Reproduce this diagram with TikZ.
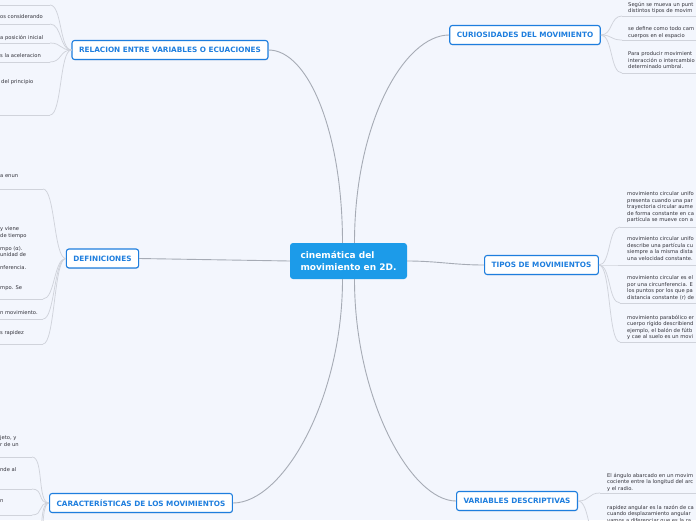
\documentclass[tikz,border=0pt]{standalone}
\usepackage{fontspec}
\setmainfont{DejaVu Sans}
\usetikzlibrary{positioning,shadows}
\definecolor{bgcol}{RGB}{243,246,253}
\definecolor{hubblue}{RGB}{28,155,233}
\definecolor{topicblue}{RGB}{30,126,222}
\definecolor{maingray}{RGB}{166,171,181}
\definecolor{leafgray}{RGB}{208,211,219}
\definecolor{leaftext}{RGB}{50,50,58}
\tikzset{
	mainline/.style={draw=maingray, line width=0.9pt},
	leafline/.style={draw=leafgray, line width=0.75pt},
	bendto/.style 2 args={to path={.. controls #1 and #2 .. (\tikztotarget)}},
	leafL/.style={to path={.. controls +(-12,0) and +(12,0) .. (\tikztotarget)}}, % rounded branch to the left
	leafR/.style={to path={.. controls +(12,0) and +(-12,0) .. (\tikztotarget)}}
}
\begin{document}
\begin{tikzpicture}[x=1pt, y=-1pt,
		hub/.style={rectangle, rounded corners=3pt, fill=hubblue, text=white, align=left,
			font=\fontsize{9}{12}\selectfont\bfseries, minimum width=117pt, minimum height=36pt, inner sep=0pt},
		topic/.style={rectangle, rounded corners=2.5pt, draw=topicblue, line width=1.1pt, fill=white,
			text=topicblue, font=\fontsize{7.3}{8.5}\selectfont\bfseries, inner xsep=7pt, minimum height=19pt,
			drop shadow={shadow xshift=0.5pt, shadow yshift=-0.8pt, opacity=0.18}},
		leaf/.style={anchor=north west, inner sep=0pt, align=left, text=leaftext, font=\fontsize{5.2}{6.5}\selectfont}
	]
	\path[use as bounding box, fill=bgcol] (0,0) rectangle (696,520);
	\clip (0,0) rectangle (696,520);
	% central idea
	\node[hub] (cin) at (348.5,261) {cinemática del\\movimiento en 2D.};
	% main topics
	\node[topic] (rel) at (170,50) {RELACION ENTRE VARIABLES O ECUACIONES};
	\node[topic] (def) at (102.5,258.5) {DEFINICIONES};
	\node[topic] (car) at (141,503) {CARACTERÍSTICAS DE LOS MOVIMIENTOS};
	\node[topic] (cur) at (525,35) {CURIOSIDADES DEL MOVIMIENTO};
	\node[topic] (tip) at (541.5,265) {TIPOS DE MOVIMIENTOS};
	\node[topic] (var) at (517,501) {VARIABLES DESCRIPTIVAS};
	\path[mainline]
		([xshift=-6pt]cin.north) edge[bendto={+(0,-110)}{+(40,0)}] (rel.east)
		([xshift=6pt]cin.north) edge[bendto={+(0,-120)}{+(-45,0)}] (cur.west)
		(cin.west) edge (def.east)
		(cin.east) edge[bendto={+(30,0)}{+(-30,0)}] (tip.west)
		([xshift=-6pt]cin.south) edge[bendto={+(0,120)}{+(50,0)}] (car.east)
		([xshift=6pt]cin.south) edge[bendto={+(0,120)}{+(-45,0)}] (var.west);
	% relacion entre variables
	\coordinate (r1) at (50,5);
	\coordinate (r2) at (50,24);
	\coordinate (r3) at (50,43);
	\coordinate (r4) at (50,62);
	\coordinate (r5) at (50,115);
	\node[leaf] (r2t) at (0,14.7) {os considerando};
	\node[leaf] (r3t) at (0,34.7) {a posición inicial};
	\node[leaf] (r4t) at (0,53.7) {s la aceleracion};
	\node[leaf] (r5t) at (1,79.7) {del principio};
	\path[leafline]
		(rel.west) edge[leafL] (r1)
		(rel.west) edge[leafL] (r2)
		(rel.west) edge[leafL] (r3)
		(rel.west) edge[leafL] (r4)
		(rel.west) edge[leafL] (r5);
	\draw[leafline] (r1) -- +(-60,0) (r2) -- +(-60,0) (r3) -- +(-60,0) (r4) -- +(-60,0) (r5) -- +(-60,0);
	% definiciones
	\coordinate (d1) at (43,189);
	\coordinate (d2) at (43,299);
	\coordinate (d3) at (43,319);
	\coordinate (d4) at (43,344);
	\node[leaf] (d1t) at (0,174.7) {a enun};
	\node[leaf] (d2t) at (0,226.7) {y viene\\de tiempo\\[6.5pt]mpo (α).\\unidad de\\[6.5pt]nferencia.\\[13pt]mpo. Se};
	\node[leaf] (d3t) at (0,310.7) {n movimiento.};
	\node[leaf] (d4t) at (0,330.7) {s rapidez};
	\path[leafline]
		(def.west) edge[leafL] (d1)
		(def.west) edge[leafL] (d2)
		(def.west) edge[leafL] (d3)
		(def.west) edge[leafL] (d4);
	\draw[leafline] (d1) -- +(-50,0) (d2) -- +(-50,0) (d3) -- +(-50,0) (d4) -- +(-50,0);
	% caracteristicas
	\coordinate (c1) at (32,457);
	\coordinate (c2) at (32,489);
	\coordinate (c3) at (32,515);
	\coordinate (c4) at (34,548);
	\coordinate (c5) at (36,585);
	\node[leaf] (c1t) at (0,435.7) {jeto, y\\r de un};
	\node[leaf] (c2t) at (0,467.7) {nde al};
	\node[leaf] (c3t) at (0,499.7) {n};
	\path[leafline]
		(car.west) edge[leafL] (c1)
		(car.west) edge[leafL] (c2)
		(car.west) edge[leafL] (c3)
		(car.west) edge[leafL] (c4)
		(car.west) edge[leafL] (c5);
	\draw[leafline] (c1) -- +(-40,0) (c2) -- +(-40,0) (c3) -- +(-40,0);
	% curiosidades
	\coordinate (q1) at (622,16);
	\coordinate (q2) at (622,40);
	\coordinate (q3) at (622,73);
	\node[leaf] (q1t) at (628,1.7) {Según se mueva un punt\\distintos tipos de movim};
	\node[leaf] (q2t) at (628,26.7) {se define como todo cam\\cuerpos en el espacio};
	\node[leaf] (q3t) at (628,51.7) {Para producir movimient\\interacción o intercambio\\determinado umbral.};
	\path[leafline]
		(cur.east) edge[leafR] (q1)
		(cur.east) edge[leafR] (q2)
		(cur.east) edge[leafR] (q3);
	\draw[leafline] (q1) -- +(80,0) (q2) -- +(80,0) (q3) -- +(80,0);
	% tipos
	\coordinate (t1) at (620,227);
	\coordinate (t2) at (620,265);
	\coordinate (t3) at (620,303);
	\coordinate (t4) at (620,342);
	\node[leaf] (t1t) at (627,191.7) {movimiento circular unifo\\presenta cuando una par\\trayectoria circular aume\\de forma constante en ca\\partícula se mueve con a};
	\node[leaf] (t2t) at (627,236.7) {movimiento circular unifo\\describe una partícula cu\\siempre a la misma dista\\una velocidad constante.};
	\node[leaf] (t3t) at (627,275.7) {movimiento circular es el\\por una circunferencia. E\\los puntos por los que pa\\distancia constante (r) de};
	\node[leaf] (t4t) at (627,314.7) {movimiento parabólico er\\cuerpo rígido describiend\\ejemplo, el balón de fútb\\y cae al suelo es un movi};
	\path[leafline]
		(tip.east) edge[leafR] (t1)
		(tip.east) edge[leafR] (t2)
		(tip.east) edge[leafR] (t3)
		(tip.east) edge[leafR] (t4);
	\draw[leafline] (t1) -- +(80,0) (t2) -- +(80,0) (t3) -- +(80,0) (t4) -- +(80,0);
	% variables
	\coordinate (v1) at (600,493);
	\coordinate (v2) at (600,545);
	\node[leaf] (v1t) at (607,472.7) {El ángulo abarcado en un movim\\cociente entre la longitud del arc\\y el radio.};
	\node[leaf] (v2t) at (607,504.7) {rapidez angular es la razón de ca\\cuando desplazamiento angular\\vamos a diferenciar que es la ra};
	\path[leafline]
		(var.east) edge[leafR] (v1)
		(var.east) edge[leafR] (v2);
	\draw[leafline] (v1) -- +(100,0) (v2) -- +(100,0);
\end{tikzpicture}
\end{document}
